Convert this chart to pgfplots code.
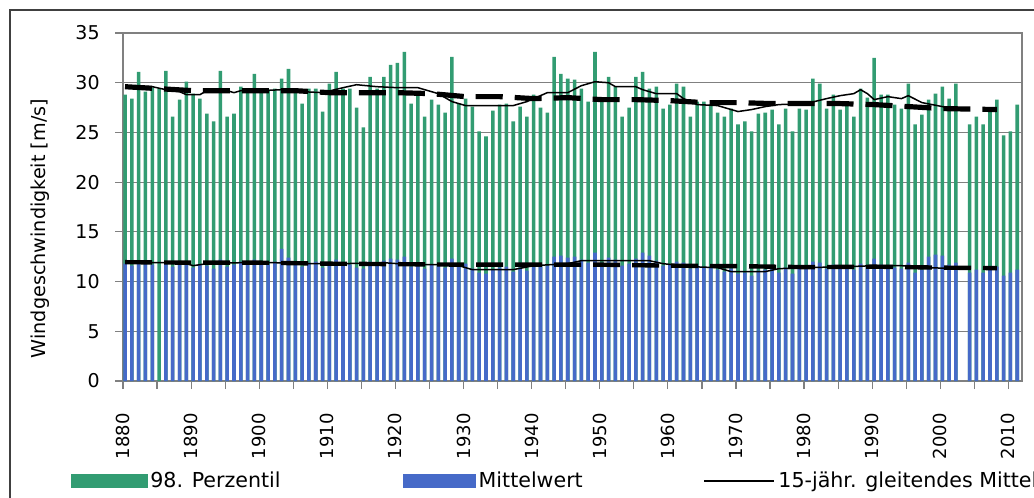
\documentclass[border=0pt]{standalone}
\usepackage{pgfplots}
\pgfplotsset{compat=1.18}
\usepackage{pgfplotstable}
\usepackage{fontspec}
\setmainfont{DejaVu Sans}

\definecolor{pgreen}{RGB}{50,156,114}
\definecolor{pblue}{RGB}{70,106,200}
\definecolor{axgray}{RGB}{128,128,128}

% 98. Perzentil (m/s)
\pgfplotstableread{
year v
1880 28.8
1881 28.4
1882 31.1
1883 29.1
1884 29.5
1885 29.4
1886 31.2
1887 26.6
1888 28.3
1889 30.1
1890 28.9
1891 28.4
1892 26.9
1893 26.1
1894 31.2
1895 26.6
1896 26.9
1897 29.6
1898 29.1
1899 30.9
1900 29.3
1901 29.3
1902 29.4
1903 30.4
1904 31.4
1905 29.4
1906 27.9
1907 29.4
1908 29.4
1909 27.1
1910 29.9
1911 31.1
1912 29.4
1913 29.4
1914 27.5
1915 25.5
1916 30.6
1917 29.4
1918 30.6
1919 31.8
1920 32.0
1921 33.1
1922 27.9
1923 29.1
1924 26.6
1925 28.3
1926 27.8
1927 27.0
1928 32.6
1929 27.9
1930 28.4
1931 27.6
1932 25.1
1933 24.6
1934 27.2
1935 27.8
1936 27.9
1937 26.1
1938 27.6
1939 26.6
1940 28.8
1941 27.5
1942 27.0
1943 32.6
1944 30.9
1945 30.4
1946 30.3
1947 29.4
1948 28.1
1949 33.1
1950 28.1
1951 30.6
1952 29.6
1953 26.6
1954 27.5
1955 30.6
1956 31.1
1957 29.4
1958 29.6
1959 27.4
1960 27.8
1961 29.9
1962 29.6
1963 26.6
1964 28.1
1965 28.1
1966 27.8
1967 27.0
1968 26.6
1969 27.4
1970 25.8
1971 26.1
1972 25.1
1973 26.9
1974 27.0
1975 27.3
1976 25.8
1977 27.4
1978 25.1
1979 27.4
1980 27.3
1981 30.4
1982 29.9
1983 27.4
1984 28.8
1985 27.3
1986 28.1
1987 26.6
1988 29.4
1989 28.5
1990 32.5
1991 28.8
1992 28.8
1993 27.8
1994 27.4
1995 29.9
1996 25.8
1997 26.8
1998 28.3
1999 28.9
2000 29.6
2001 28.4
2002 29.9
2004 25.8
2005 26.6
2006 25.8
2007 27.4
2008 28.3
2009 24.7
2010 25.1
2011 27.8
}\pperz

% Mittelwert (m/s)
\pgfplotstableread{
year v
1880 11.8
1881 11.6
1882 12.1
1883 11.9
1884 11.7
1886 12.0
1887 11.5
1888 11.8
1889 12.0
1890 11.4
1891 11.7
1892 11.6
1893 11.3
1894 12.2
1895 11.5
1896 11.7
1897 12.0
1898 11.8
1899 12.2
1900 11.9
1901 11.7
1902 12.0
1903 13.3
1904 12.4
1905 11.8
1906 11.5
1907 11.9
1908 12.0
1909 11.4
1910 11.8
1911 12.2
1912 11.9
1913 11.7
1914 11.4
1915 11.3
1916 12.0
1917 11.8
1918 12.1
1919 12.3
1920 12.2
1921 12.5
1922 11.5
1923 11.8
1924 11.3
1925 11.7
1926 11.6
1927 11.4
1928 12.3
1929 11.6
1930 11.8
1931 11.3
1932 10.9
1933 10.8
1934 11.2
1935 11.4
1936 11.5
1937 11.0
1938 11.4
1939 11.1
1940 11.8
1941 11.5
1942 11.6
1943 12.5
1944 12.6
1945 12.4
1946 12.5
1947 12.2
1948 11.9
1949 12.9
1950 11.9
1951 12.4
1952 12.2
1953 11.6
1954 11.8
1955 12.3
1956 12.9
1957 12.6
1958 12.1
1959 11.6
1960 11.7
1961 12.0
1962 11.9
1963 11.3
1964 11.6
1965 11.5
1966 11.4
1967 11.2
1968 11.0
1969 11.3
1970 10.8
1971 10.9
1972 10.6
1973 11.1
1974 11.2
1975 11.3
1976 10.9
1977 11.4
1978 10.8
1979 11.3
1980 11.4
1981 12.0
1982 11.9
1983 11.3
1984 11.7
1985 11.4
1986 11.6
1987 11.2
1988 11.8
1989 11.6
1990 12.3
1991 11.7
1992 11.6
1993 11.4
1994 11.3
1995 11.9
1996 10.9
1997 11.2
1998 12.5
1999 12.7
2000 12.6
2001 11.7
2002 11.9
2004 10.9
2005 11.2
2006 10.9
2007 11.3
2008 11.5
2009 10.6
2010 10.9
2011 11.2
}\pmean

% 15-jaehriges gleitendes Mittel, 98. Perzentil
\pgfplotstableread{
year v
1880 29.6
1884 29.6
1886 29.3
1888 29.1
1889 28.8
1891 28.8
1892 29.2
1895 29.2
1896 29.0
1897 29.2
1900 29.2
1903 29.3
1906 29.1
1909 29.0
1912 29.5
1914 29.8
1917 29.6
1920 29.5
1923 29.5
1926 28.9
1928 28.1
1930 27.7
1937 27.7
1939 28.1
1940 28.4
1942 29.0
1945 29.0
1947 29.7
1949 30.1
1951 30.0
1952 29.6
1955 29.6
1956 29.3
1958 28.9
1961 28.9
1962 28.4
1964 27.8
1967 27.7
1970 27.1
1972 27.3
1974 27.6
1976 27.8
1980 27.9
1983 28.4
1985 28.7
1987 28.9
1988 29.3
1989 28.9
1990 28.3
1992 28.6
1994 28.4
1995 28.7
1997 28.0
2000 27.6
2002 27.3
}\maperz

% dicke gestrichelte Linie, 98. Perzentil
\pgfplotstableread{
year v
1880 29.6
1885 29.4
1890 29.2
1895 29.2
1900 29.2
1905 29.2
1910 29.0
1915 29.0
1920 29.0
1925 28.9
1930 28.6
1935 28.6
1940 28.4
1945 28.5
1950 28.3
1955 28.3
1960 28.2
1965 28.0
1970 28.0
1975 27.9
1980 27.9
1985 27.9
1990 27.8
1995 27.6
2000 27.4
2008 27.3
}\trperz

% 15-jaehriges gleitendes Mittel, Mittelwert
\pgfplotstableread{
year v
1880 11.9
1884 11.9
1886 11.9
1889 11.8
1890 11.6
1892 11.8
1897 11.9
1902 11.9
1906 11.8
1912 11.8
1918 11.9
1922 11.7
1926 11.7
1929 11.6
1931 11.2
1937 11.2
1940 11.6
1945 11.8
1947 12.1
1957 12.1
1959 11.8
1963 11.5
1967 11.4
1969 11.0
1974 11.0
1976 11.3
1980 11.4
1986 11.5
1990 11.6
1994 11.6
1998 11.4
2002 11.3
}\mamean

% dicke gestrichelte Linie, Mittelwert
\pgfplotstableread{
year v
1880 11.95
1890 11.9
1900 11.9
1910 11.8
1920 11.75
1930 11.7
1940 11.7
1950 11.7
1960 11.6
1970 11.55
1980 11.45
1990 11.5
2000 11.4
2008 11.35
}\trmean

\begin{document}
\begin{tikzpicture}
\useasboundingbox (0,0) rectangle (517pt,249pt);
\clip (0,0) rectangle (517pt,249pt);
\fill[white] (0,0) rectangle (517pt,249pt);
\draw[black!75, line width=1.2pt] (5pt,-10pt) -- (5pt,244pt) -- (530pt,244pt);

\begin{axis}[
  at={(61.5pt,58.5pt)}, anchor=south west,
  scale only axis, width=449.5pt, height=174pt,
  xmin=1880, xmax=2012, ymin=0, ymax=35,
  ytick={0,5,...,35},
  xtick={1880,1890,...,2010},
  minor xtick={1885,1895,...,2005},
  tick align=outside, tick pos=left,
  major tick length=4pt, minor tick length=4pt,
  tick style={axgray, line width=0.6pt},
  ymajorgrids, major grid style={axgray, line width=0.6pt},
  axis line style={axgray, line width=0.7pt},
  /pgf/number format/assume math mode=true,
  /pgf/number format/1000 sep={},
  xticklabel style={rotate=90, anchor=east, inner sep=0pt, font=\fontsize{9}{10}\selectfont},
  yticklabel style={anchor=east, inner sep=0pt, font=\fontsize{9.5}{11}\selectfont},
  xticklabel shift=12pt,
  yticklabel shift=7.5pt,
  ylabel={Windgeschwindigkeit [m/s]},
  every axis y label/.style={at={(axis description cs:-0.0923,0.438)}, rotate=90, anchor=center, font=\fontsize{9.6}{11}\selectfont},
  legend columns=3,
  legend style={at={(axis description cs:-0.0584,-0.287)}, anchor=west, draw=none, fill=none,
    inner sep=0pt, column sep=0pt, font=\fontsize{10.3}{12}\selectfont,
    nodes={inner sep=0pt, anchor=west}},
]
\addplot[ybar, bar width=0.52, bar shift=0pt, fill=pgreen, draw=none, forget plot]
  table[x expr=\thisrow{year}+0.3, y=v] {\pperz};
\addplot[ybar, bar width=0.52, bar shift=0pt, fill=pblue, draw=none, forget plot]
  table[x expr=\thisrow{year}+0.3, y=v] {\pmean};

\addplot[black, line width=0.75pt, mark=none, forget plot]
  table[x expr=\thisrow{year}+0.3, y=v] {\maperz};
\addplot[black, line width=0.75pt, mark=none, forget plot]
  table[x expr=\thisrow{year}+0.3, y=v] {\mamean};
\addplot[black, line width=2.6pt, dash pattern=on 13.5pt off 6pt, mark=none, forget plot]
  table[x expr=\thisrow{year}+0.3, y=v] {\trperz};
\addplot[black, line width=2.2pt, dash pattern=on 13.5pt off 6pt, mark=none, forget plot]
  table[x expr=\thisrow{year}+0.3, y=v] {\trmean};

\addlegendimage{legend image code/.code={\fill[pgreen] (0pt,-3.1pt) rectangle (38.1pt,3.1pt);}}
\addlegendentry{\hspace{1.2pt}\makebox[126.3pt][l]{98. Perzentil}}
\addlegendimage{legend image code/.code={\fill[pblue] (0pt,-3.1pt) rectangle (35.8pt,3.1pt);}}
\addlegendentry{\hspace{1.7pt}\makebox[112.5pt][l]{Mittelwert}}
\addlegendimage{legend image code/.code={\draw[black, line width=0.75pt] (0pt,0pt) -- (35pt,0pt);}}
\addlegendentry{\hspace{1.6pt}15-jähr. gleitendes Mittel}
\end{axis}
\end{tikzpicture}
\end{document}
